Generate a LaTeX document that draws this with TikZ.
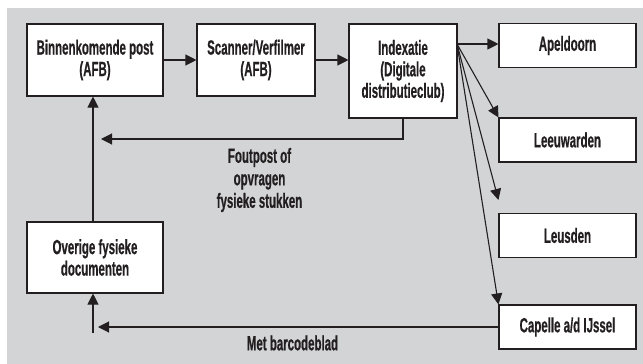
\documentclass[tikz,border=0pt]{standalone}
\usepackage{fontspec}
\setmainfont{Liberation Sans}[FakeStretch=0.56, FakeBold=0.5]
\usepackage{tikz}
\usetikzlibrary{arrows.meta}

\definecolor{panelgray}{RGB}{211,212,214}
\definecolor{inkblack}{RGB}{35,31,32}

\begin{document}
\begin{tikzpicture}[x=1pt, y=-1pt]
    \def\bw{137}

    % --- DEFINE STYLES ---
    % Style for the white process boxes
    \tikzstyle{stepbox} = [rectangle, draw=inkblack, line width=1.1pt, fill=white, align=center,
        inner sep=0pt, font=\bfseries\fontsize{20.5}{21.5}\selectfont, text=inkblack]
    % Style for the location boxes on the right
    \tikzstyle{placebox} = [stepbox, minimum width=\bw, minimum height=44]
    % Style for the connectors
    \tikzstyle{flow} = [draw=inkblack, line width=1.1pt, -{Triangle[length=11pt,width=11pt]}]
    % Style for the free labels
    \tikzstyle{flowlabel} = [align=center, font=\bfseries\fontsize{20.5}{22.5}\selectfont, text=inkblack]

    % Canvas
    \useasboundingbox (0,0) rectangle (643,364);
    \fill[panelgray] (7,8) rectangle (643,364);

    % --- BOXES ---
    \node[stepbox, minimum width=136, minimum height=72] (binnen) at (95,60) {Binnenkomende post\\(AFB)};
    \node[stepbox, minimum width=118, minimum height=72] (scanner) at (256,60) {Scanner/Verfilmer\\(AFB)};
    \node[stepbox, minimum width=108, minimum height=94] (index) at (403,71) {Indexatie\\(Digitale\\distributieclub)};
    \node[stepbox, minimum width=136, minimum height=71] (overige) at (95,257.5) {Overige fysieke\\documenten};

    \node[placebox] (apeldoorn) at (567.5,45.5) {Apeldoorn};
    \node[placebox] (leeuwarden) at (567.5,140) {Leeuwarden};
    \node[placebox] (leusden) at (567.5,235.5) {Leusden};
    \node[placebox] (capelle) at (567.5,327) {Capelle a/d IJssel};

    % --- CONNECTORS ---
    \draw[flow] (binnen) -- (scanner);
    \draw[flow] (scanner.east) -- (scanner.east -| index.west);

    % fan out from the index box
    \coordinate (fan) at (457,44);
    \draw[flow] (fan) -- (fan -| apeldoorn.west);
    \draw[flow] (fan) -- (leeuwarden.north west);
    \draw[flow] (fan) -- ([yshift=13pt]leusden.north west);
    \draw[flow] (fan) -- (capelle.north west);

    % return paths
    \coordinate (foutend) at (101,139);
    \draw[flow] (index.south) |- (foutend);
    \draw[flow] ([xshift=-2pt]overige.north) -- ([xshift=-2pt]binnen.south);
    \coordinate (retour) at (98,327);
    \draw[flow] (capelle.west) -- (retour);
    \coordinate (onder) at (93,333);
    \draw[flow] (onder) -- (onder |- overige.south);

    % Labels
    \node[flowlabel] (foutpost) at (259.5,180) {Foutpost of\\opvragen\\fysieke stukken};
    \node[flowlabel] (barcode) at (292.5,343) {Met barcodeblad};
\end{tikzpicture}
\end{document}
